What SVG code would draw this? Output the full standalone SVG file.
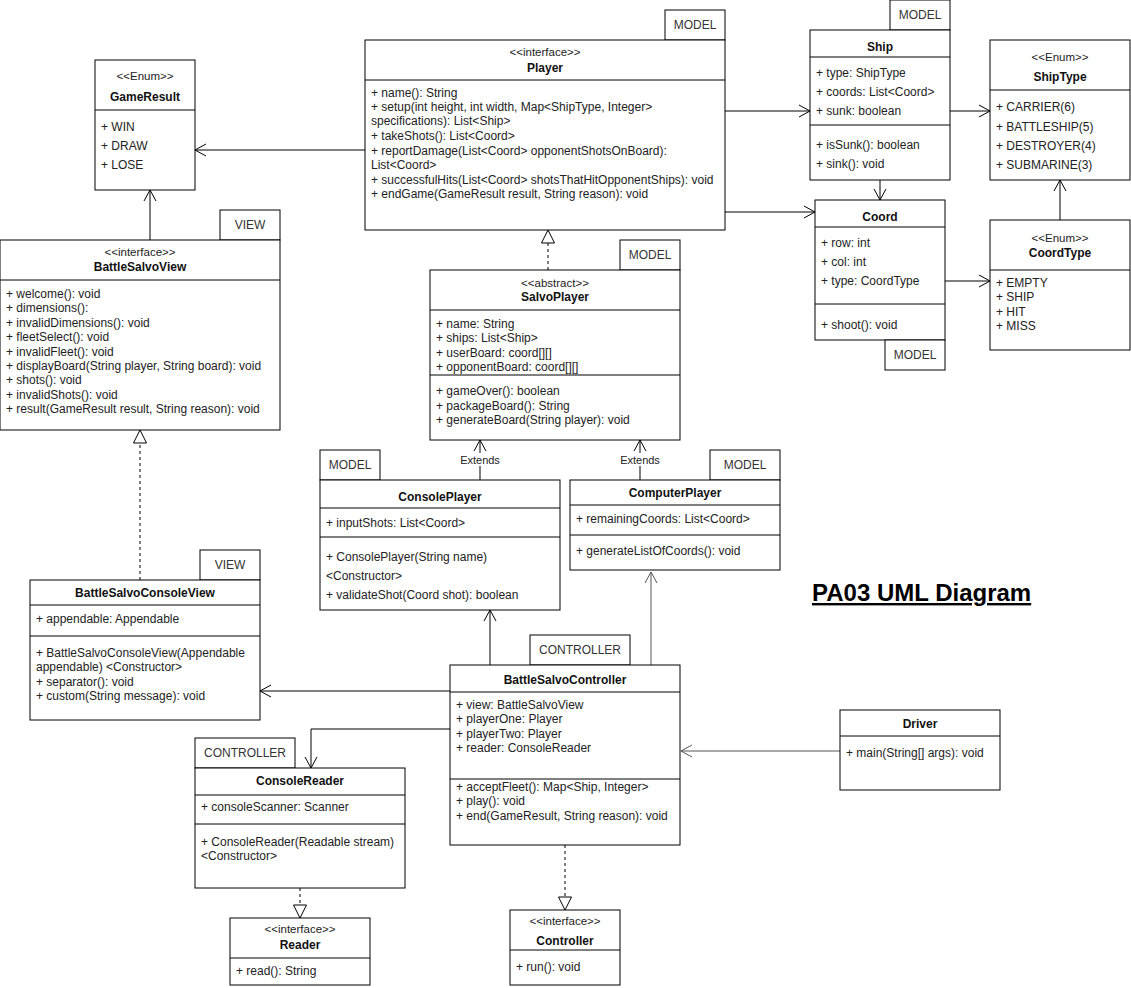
<svg xmlns="http://www.w3.org/2000/svg" width="1131" height="988" viewBox="0 0 1131 988">
<defs>
<marker id="open" markerUnits="userSpaceOnUse" markerWidth="14" markerHeight="14" viewBox="-12 -7 14 14" refX="0" refY="0" orient="auto">
<path d="M -11 -6 L 0 0 L -11 6" fill="none" stroke="#000" stroke-width="1"/>
</marker>
<marker id="openg" markerUnits="userSpaceOnUse" markerWidth="14" markerHeight="14" viewBox="-12 -7 14 14" refX="0" refY="0" orient="auto">
<path d="M -11 -6 L 0 0 L -11 6" fill="none" stroke="#555" stroke-width="1"/>
</marker>
<marker id="tri" markerUnits="userSpaceOnUse" markerWidth="16" markerHeight="16" viewBox="-15 -8 16 16" refX="0" refY="0" orient="auto">
<path d="M -13 -6.5 L 0 0 L -13 6.5 Z" fill="#fff" stroke="#000" stroke-width="1"/>
</marker>
</defs>
<style>
rect{fill:#fff;stroke:#000;stroke-width:1}
line.d{stroke:#000;stroke-width:1}
text{font-family:"Liberation Sans",Arial,sans-serif;font-size:12px;fill:#222}
.n{font-weight:bold;font-size:12px;text-anchor:middle;fill:#111}
.s{font-size:11.5px;text-anchor:middle}
.t{font-size:12px;text-anchor:middle;fill:#333}
.c{fill:none;stroke:#000;stroke-width:1}
.g{fill:none;stroke:#555;stroke-width:1}
.dash{stroke-dasharray:3 3}
.title{font-size:24px;font-weight:bold;text-decoration:underline;fill:#000}
.lbl{font-size:11px;text-anchor:middle}
</style>
<rect x="0" y="0" width="1131" height="988" style="stroke:none"/>

<g id="connectors">
<path class="c" d="M 725 111 L 810 111" marker-end="url(#open)"/>
<path class="c" d="M 725 212 L 815 212" marker-end="url(#open)"/>
<path class="c" d="M 950 111 L 990 111" marker-end="url(#open)"/>
<path class="c" d="M 880 180 L 880 200" marker-end="url(#open)"/>
<path class="c" d="M 945 281 L 990 281" marker-end="url(#open)"/>
<path class="c" d="M 1060 220 L 1060 180" marker-end="url(#open)"/>
<path class="c" d="M 365 150 L 195 150" marker-end="url(#open)"/>
<path class="c" d="M 150 240 L 150 190" marker-end="url(#open)"/>
<path class="c dash" d="M 548 270 L 548 230" marker-end="url(#tri)"/>
<path class="c dash" d="M 140 580 L 140 430" marker-end="url(#tri)"/>
<path class="c" d="M 480 480 L 480 440" marker-end="url(#open)"/>
<path class="c" d="M 640 480 L 640 440" marker-end="url(#open)"/>
<rect x="457" y="453" width="46" height="13" style="stroke:none"/>
<rect x="617" y="453" width="46" height="13" style="stroke:none"/>
<text class="lbl" x="480" y="464">Extends</text>
<text class="lbl" x="640" y="464">Extends</text>
<path class="c" d="M 490 665 L 490 610" marker-end="url(#open)"/>
<path class="g" d="M 651 665 L 651 572" marker-end="url(#openg)"/>
<path class="c" d="M 450 691 L 260 691" marker-end="url(#open)"/>
<path class="c" d="M 450 729 L 311 729 L 311 768" marker-end="url(#open)"/>
<path class="g" d="M 840 751 L 681 751" marker-end="url(#openg)"/>
<path class="c dash" d="M 300 888 L 300 918" marker-end="url(#tri)"/>
<path class="c dash" d="M 565 845 L 565 910" marker-end="url(#tri)"/>
</g>

<g id="Player">
<rect x="665" y="10" width="60" height="30"/>
<text class="t" x="695" y="29">MODEL</text>
<rect x="365" y="40" width="360" height="190"/>
<line class="d" x1="365" y1="80" x2="725" y2="80"/>
<text class="s" x="545" y="56">&lt;&lt;interface&gt;&gt;</text>
<text class="n" x="545" y="72">Player</text>
<text x="371" y="97">+ name(): String</text>
<text x="371" y="111">+ setup(int height, int width, Map&lt;ShipType, Integer&gt;</text>
<text x="371" y="125">specifications): List&lt;Ship&gt;</text>
<text x="371" y="140">+ takeShots(): List&lt;Coord&gt;</text>
<text x="371" y="155">+ reportDamage(List&lt;Coord&gt; opponentShotsOnBoard):</text>
<text x="371" y="169">List&lt;Coord&gt;</text>
<text x="371" y="184">+ successfulHits(List&lt;Coord&gt; shotsThatHitOpponentShips): void</text>
<text x="371" y="198">+ endGame(GameResult result, String reason): void</text>
</g>

<g id="Ship">
<rect x="890" y="0" width="60" height="30"/>
<text class="t" x="920" y="19">MODEL</text>
<rect x="810" y="30" width="140" height="150"/>
<line class="d" x1="810" y1="57" x2="950" y2="57"/>
<text class="n" x="880" y="51">Ship</text>
<text x="816" y="77">+ type: ShipType</text>
<text x="816" y="96">+ coords: List&lt;Coord&gt;</text>
<text x="816" y="115">+ sunk: boolean</text>
<line class="d" x1="810" y1="125" x2="950" y2="125"/>
<text x="816" y="149">+ isSunk(): boolean</text>
<text x="816" y="168">+ sink(): void</text>
</g>

<g id="ShipType">
<rect x="990" y="40" width="140" height="140"/>
<text class="s" x="1060" y="61">&lt;&lt;Enum&gt;&gt;</text>
<text class="n" x="1060" y="81">ShipType</text>
<line class="d" x1="990" y1="90" x2="1130" y2="90"/>
<text x="996" y="111">+ CARRIER(6)</text>
<text x="996" y="131">+ BATTLESHIP(5)</text>
<text x="996" y="150">+ DESTROYER(4)</text>
<text x="996" y="169">+ SUBMARINE(3)</text>
</g>

<g id="Coord">
<rect x="815" y="200" width="130" height="140"/>
<text class="n" x="880" y="221">Coord</text>
<line class="d" x1="815" y1="227" x2="945" y2="227"/>
<text x="821" y="247">+ row: int</text>
<text x="821" y="266">+ col: int</text>
<text x="821" y="285">+ type: CoordType</text>
<line class="d" x1="815" y1="304" x2="945" y2="304"/>
<text x="821" y="329">+ shoot(): void</text>
<rect x="885" y="340" width="60" height="30"/>
<text class="t" x="915" y="359">MODEL</text>
</g>

<g id="CoordType">
<rect x="990" y="220" width="140" height="130"/>
<text class="s" x="1060" y="242">&lt;&lt;Enum&gt;&gt;</text>
<text class="n" x="1060" y="257">CoordType</text>
<line class="d" x1="990" y1="270" x2="1130" y2="270"/>
<text x="996" y="287">+ EMPTY</text>
<text x="996" y="301">+ SHIP</text>
<text x="996" y="316">+ HIT</text>
<text x="996" y="330">+ MISS</text>
</g>

<g id="GameResult">
<rect x="95" y="60" width="100" height="130"/>
<text class="s" x="145" y="80">&lt;&lt;Enum&gt;&gt;</text>
<text class="n" x="145" y="101">GameResult</text>
<line class="d" x1="95" y1="110" x2="195" y2="110"/>
<text x="101" y="131">+ WIN</text>
<text x="101" y="150">+ DRAW</text>
<text x="101" y="169">+ LOSE</text>
</g>

<g id="BattleSalvoView">
<rect x="220" y="210" width="60" height="30"/>
<text class="t" x="250" y="229">VIEW</text>
<rect x="0" y="240" width="280" height="190"/>
<text class="s" x="140" y="256">&lt;&lt;interface&gt;&gt;</text>
<text class="n" x="140" y="271">BattleSalvoView</text>
<line class="d" x1="0" y1="280" x2="280" y2="280"/>
<text x="6" y="298">+ welcome(): void</text>
<text x="6" y="312">+ dimensions():</text>
<text x="6" y="327">+ invalidDimensions(): void</text>
<text x="6" y="341">+ fleetSelect(): void</text>
<text x="6" y="356">+ invalidFleet(): void</text>
<text x="6" y="370">+ displayBoard(String player, String board): void</text>
<text x="6" y="384">+ shots(): void</text>
<text x="6" y="399">+ invalidShots(): void</text>
<text x="6" y="413">+ result(GameResult result, String reason): void</text>
</g>

<g id="SalvoPlayer">
<rect x="620" y="240" width="60" height="30"/>
<text class="t" x="650" y="259">MODEL</text>
<rect x="430" y="270" width="250" height="170"/>
<text class="s" x="555" y="287">&lt;&lt;abstract&gt;&gt;</text>
<text class="n" x="555" y="301">SalvoPlayer</text>
<line class="d" x1="430" y1="310" x2="680" y2="310"/>
<text x="436" y="328">+ name: String</text>
<text x="436" y="342">+ ships: List&lt;Ship&gt;</text>
<text x="436" y="357">+ userBoard: coord[][]</text>
<text x="436" y="371">+ opponentBoard: coord[][]</text>
<line class="d" x1="430" y1="375" x2="680" y2="375"/>
<text x="436" y="395">+ gameOver(): boolean</text>
<text x="436" y="410">+ packageBoard(): String</text>
<text x="436" y="424">+ generateBoard(String player): void</text>
</g>

<g id="ConsolePlayer">
<rect x="320" y="450" width="60" height="30"/>
<text class="t" x="350" y="469">MODEL</text>
<rect x="320" y="480" width="240" height="130"/>
<text class="n" x="440" y="501">ConsolePlayer</text>
<line class="d" x1="320" y1="508" x2="560" y2="508"/>
<text x="326" y="527">+ inputShots: List&lt;Coord&gt;</text>
<line class="d" x1="320" y1="537" x2="560" y2="537"/>
<text x="326" y="561">+ ConsolePlayer(String name)</text>
<text x="326" y="580">&lt;Constructor&gt;</text>
<text x="326" y="599">+ validateShot(Coord shot): boolean</text>
</g>

<g id="ComputerPlayer">
<rect x="710" y="450" width="70" height="30"/>
<text class="t" x="745" y="469">MODEL</text>
<rect x="570" y="480" width="210" height="90"/>
<text class="n" x="675" y="497">ComputerPlayer</text>
<line class="d" x1="570" y1="505" x2="780" y2="505"/>
<text x="576" y="523">+ remainingCoords: List&lt;Coord&gt;</text>
<line class="d" x1="570" y1="535" x2="780" y2="535"/>
<text x="576" y="555">+ generateListOfCoords(): void</text>
</g>

<g id="BattleSalvoConsoleView">
<rect x="200" y="550" width="60" height="30"/>
<text class="t" x="230" y="569">VIEW</text>
<rect x="30" y="580" width="230" height="140"/>
<text class="n" x="145" y="597">BattleSalvoConsoleView</text>
<line class="d" x1="30" y1="605" x2="260" y2="605"/>
<text x="36" y="623">+ appendable: Appendable</text>
<line class="d" x1="30" y1="636" x2="260" y2="636"/>
<text x="36" y="657">+ BattleSalvoConsoleView(Appendable</text>
<text x="36" y="671">appendable) &lt;Constructor&gt;</text>
<text x="36" y="686">+ separator(): void</text>
<text x="36" y="700">+ custom(String message): void</text>
</g>

<g id="BattleSalvoController">
<rect x="530" y="635" width="100" height="30"/>
<text class="t" x="580" y="654">CONTROLLER</text>
<rect x="450" y="665" width="230" height="180"/>
<text class="n" x="565" y="684">BattleSalvoController</text>
<line class="d" x1="450" y1="692" x2="680" y2="692"/>
<text x="456" y="709">+ view: BattleSalvoView</text>
<text x="456" y="723">+ playerOne: Player</text>
<text x="456" y="738">+ playerTwo: Player</text>
<text x="456" y="752">+ reader: ConsoleReader</text>
<line class="d" x1="450" y1="779" x2="680" y2="779"/>
<text x="456" y="791">+ acceptFleet(): Map&lt;Ship, Integer&gt;</text>
<text x="456" y="805">+ play(): void</text>
<text x="456" y="820">+ end(GameResult, String reason): void</text>
</g>

<g id="Driver">
<rect x="840" y="710" width="160" height="80"/>
<text class="n" x="920" y="728">Driver</text>
<line class="d" x1="840" y1="736" x2="1000" y2="736"/>
<text x="846" y="757">+ main(String[] args): void</text>
</g>

<g id="ConsoleReader">
<rect x="195" y="738" width="100" height="30"/>
<text class="t" x="245" y="757">CONTROLLER</text>
<rect x="195" y="768" width="210" height="120"/>
<text class="n" x="300" y="785">ConsoleReader</text>
<line class="d" x1="195" y1="795" x2="405" y2="795"/>
<text x="201" y="811">+ consoleScanner: Scanner</text>
<line class="d" x1="195" y1="824" x2="405" y2="824"/>
<text x="201" y="846">+ ConsoleReader(Readable stream)</text>
<text x="201" y="860">&lt;Constructor&gt;</text>
</g>

<g id="Reader">
<rect x="230" y="918" width="140" height="67"/>
<text class="s" x="300" y="933">&lt;&lt;interface&gt;&gt;</text>
<text class="n" x="300" y="949">Reader</text>
<line class="d" x1="230" y1="958" x2="370" y2="958"/>
<text x="236" y="975">+ read(): String</text>
</g>

<g id="Controller">
<rect x="510" y="910" width="110" height="75"/>
<text class="s" x="565" y="925">&lt;&lt;interface&gt;&gt;</text>
<text class="n" x="565" y="945">Controller</text>
<line class="d" x1="510" y1="950" x2="620" y2="950"/>
<text x="516" y="971">+ run(): void</text>
</g>

<text class="title" x="812" y="601">PA03 UML Diagram</text>
</svg>
